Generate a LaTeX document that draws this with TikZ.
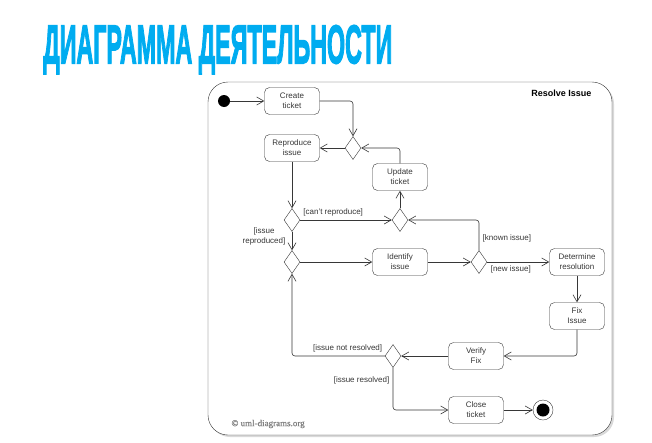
\documentclass[tikz,border=0pt]{standalone}
\usepackage{fontspec}
\usepackage{graphicx}
\setsansfont{Liberation Sans}
\newfontfamily\titlefont[FakeBold=3]{Liberation Sans}
\newfontfamily\copyfont[FakeBold=0.5]{Liberation Serif}
\usetikzlibrary{shapes.geometric,arrows.meta}
\definecolor{titleblue}{RGB}{0,172,240}
\definecolor{linegray}{RGB}{55,55,55}

\begin{document}
\begin{tikzpicture}[x=1pt,y=-1pt,
    every node/.style={font=\sffamily\fontsize{8}{10}\selectfont,text=linegray},
    action/.style={draw=linegray,rounded corners=5pt,minimum width=55pt,minimum height=27pt,align=center,inner sep=1pt},
    decision/.style={draw=linegray,diamond,minimum width=16pt,minimum height=23pt,inner sep=0pt},
    flow/.style={draw=linegray,line width=0.6pt,rounded corners=3pt,-{Straight Barb[length=7pt,width=8pt]}}]
  \useasboundingbox (0,0) rectangle (652,442);
  \node[anchor=north west,inner sep=0pt,text=titleblue] (title) at (43,25)
    {\resizebox{349pt}{38pt}{\titlefont\bfseries ДИАГРАММА ДЕЯТЕЛЬНОСТИ}};
  % activity frame
  \fill[gray!30,rounded corners=20pt] (210,84) rectangle (614,437);
  \draw[linegray,fill=white,rounded corners=20pt] (208,82) rectangle (612,435);
  \node[anchor=east,font=\sffamily\bfseries\fontsize{9}{11}\selectfont,text=black] (frametitle) at (595,93) {Resolve Issue};
  \node[anchor=west,font=\copyfont\fontsize{9}{11}\selectfont,text=gray] (copyright) at (228,424) {© uml-diagrams.org};

  \node[circle,fill=black,minimum size=12pt,inner sep=0pt] (start) at (224,101) {};
  \node[action] (create) at (292,101) {Create\\ticket};
  \node[decision] (merge1) at (353,148) {};
  \node[action] (reproduce) at (292,148) {Reproduce\\issue};
  \node[action] (update) at (400,177) {Update\\ticket};
  \node[decision] (canrep) at (292,220) {};
  \node[decision] (merge2) at (400,220) {};
  \node[decision] (merge3) at (292,262) {};
  \node[action] (identify) at (400,262) {Identify\\issue};
  \node[decision] (known) at (479,262) {};
  \node[action] (determine) at (577,262) {Determine\\resolution};
  \node[action] (fix) at (577,316) {Fix\\Issue};
  \node[action] (verify) at (476,356) {Verify\\Fix};
  \node[decision] (resolved) at (393,356) {};
  \node[action] (close) at (476,410) {Close\\ticket};
  \node[circle,draw=linegray,minimum size=20pt,inner sep=0pt] (end) at (543,410) {};
  \node[circle,fill=black,minimum size=13pt,inner sep=0pt] (endin) at (end) {};

  % control flows
  \draw[flow] (start) -- (create);
  \draw[flow] (create) -| (merge1);
  \draw[flow] (merge1) -- (reproduce);
  \draw[flow] (update) |- (merge1);
  \draw[flow] (reproduce) -- (canrep);
  \draw[flow] (canrep) -- node[above,pos=0.36] {[can't reproduce]} (merge2);
  \draw[flow] (canrep) -- node[left,align=center,pos=0.25,xshift=-3pt] {[issue\\reproduced]} (merge3);
  \draw[flow] (merge2) -- (update);
  \draw[flow] (known) |- node[right,pos=0.2] {[known issue]} (merge2);
  \draw[flow] (merge3) -- (identify);
  \draw[flow] (identify) -- (known);
  \draw[flow] (known) -- node[below,pos=0.38] {[new issue]} (determine);
  \draw[flow] (determine) -- (fix);
  \draw[flow] (fix) |- (verify);
  \draw[flow] (verify) -- (resolved);
  \draw[flow] (resolved) -| node[above,pos=0.2] {[issue not resolved]} (merge3);
  \draw[flow] (resolved) |- node[left,pos=0.15] {[issue resolved]} (close);
  \draw[flow] (close) -- (end);
\end{tikzpicture}
\end{document}
